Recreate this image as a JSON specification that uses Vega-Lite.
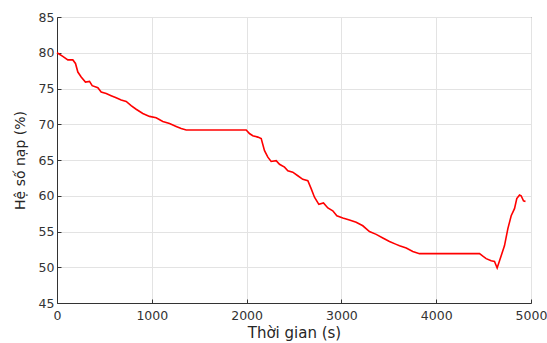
{
  "$schema": "https://vega.github.io/schema/vega-lite/v6.json",
  "width": 474,
  "height": 286,
  "autosize": {"type": "none"},
  "padding": {"left": 57, "top": 17, "right": 16, "bottom": 40},
  "background": "white",
  "config": {
    "view": {"stroke": "#555", "strokeWidth": 1},
    "font": "DejaVu Sans"
  },
  "data": {
    "values": [
      {"t": 0, "v": 80.0}, {"t": 61, "v": 79.5}, {"t": 114, "v": 79.0}, {"t": 167, "v": 79.0},
      {"t": 195, "v": 78.5}, {"t": 220, "v": 77.3}, {"t": 255, "v": 76.6}, {"t": 300, "v": 75.9},
      {"t": 343, "v": 76.0}, {"t": 371, "v": 75.4}, {"t": 431, "v": 75.1}, {"t": 466, "v": 74.5},
      {"t": 519, "v": 74.3}, {"t": 571, "v": 74.0}, {"t": 624, "v": 73.7}, {"t": 677, "v": 73.4},
      {"t": 730, "v": 73.2}, {"t": 782, "v": 72.6}, {"t": 835, "v": 72.1}, {"t": 905, "v": 71.5},
      {"t": 976, "v": 71.1}, {"t": 1046, "v": 70.9}, {"t": 1116, "v": 70.4}, {"t": 1187, "v": 70.1},
      {"t": 1257, "v": 69.7}, {"t": 1310, "v": 69.4}, {"t": 1363, "v": 69.2}, {"t": 1996, "v": 69.2},
      {"t": 2030, "v": 68.7}, {"t": 2065, "v": 68.4}, {"t": 2118, "v": 68.2}, {"t": 2154, "v": 68.0},
      {"t": 2189, "v": 66.3}, {"t": 2224, "v": 65.4}, {"t": 2259, "v": 64.8}, {"t": 2312, "v": 64.9},
      {"t": 2347, "v": 64.4}, {"t": 2400, "v": 64.0}, {"t": 2435, "v": 63.5}, {"t": 2487, "v": 63.3},
      {"t": 2540, "v": 62.8}, {"t": 2593, "v": 62.3}, {"t": 2646, "v": 62.1}, {"t": 2681, "v": 61.0},
      {"t": 2716, "v": 59.8}, {"t": 2762, "v": 58.8}, {"t": 2811, "v": 59.0}, {"t": 2857, "v": 58.3},
      {"t": 2909, "v": 57.9}, {"t": 2952, "v": 57.2}, {"t": 3015, "v": 56.9}, {"t": 3085, "v": 56.6},
      {"t": 3156, "v": 56.3}, {"t": 3226, "v": 55.8}, {"t": 3296, "v": 55.0}, {"t": 3367, "v": 54.6},
      {"t": 3437, "v": 54.1}, {"t": 3507, "v": 53.6}, {"t": 3578, "v": 53.2}, {"t": 3613, "v": 53.0},
      {"t": 3684, "v": 52.7}, {"t": 3753, "v": 52.2}, {"t": 3824, "v": 51.9}, {"t": 4457, "v": 51.9},
      {"t": 4527, "v": 51.2}, {"t": 4580, "v": 50.9}, {"t": 4615, "v": 50.8}, {"t": 4643, "v": 49.9},
      {"t": 4668, "v": 50.9}, {"t": 4720, "v": 53.0}, {"t": 4756, "v": 55.4}, {"t": 4791, "v": 57.2},
      {"t": 4826, "v": 58.2}, {"t": 4850, "v": 59.6}, {"t": 4879, "v": 60.1}, {"t": 4896, "v": 60.0},
      {"t": 4921, "v": 59.3}, {"t": 4942, "v": 59.2}
    ]
  },
  "mark": {"type": "line", "color": "#ff0000", "strokeWidth": 1.6},
  "encoding": {
    "x": {
      "field": "t", "type": "quantitative",
      "scale": {"domain": [0, 5000], "nice": false, "zero": false},
      "axis": {
        "title": "Thời gian (s)", "values": [0, 1000, 2000, 3000, 4000, 5000], "format": "d",
        "titleFontSize": 15, "titleFontWeight": "normal", "titleColor": "#262626", "titlePadding": 4,
        "labelFontSize": 12.5, "labelColor": "#333", "labelPadding": 10,
        "grid": true, "gridColor": "#e3e3e3", "gridWidth": 1,
        "domainColor": "#333", "tickColor": "#333", "tickSize": -4, "labelFlush": false
      }
    },
    "y": {
      "field": "v", "type": "quantitative",
      "scale": {"domain": [45, 85], "nice": false, "zero": false},
      "axis": {
        "title": "Hệ số nạp (%)", "values": [45, 50, 55, 60, 65, 70, 75, 80, 85], "format": "d",
        "titleFontSize": 14, "titleFontWeight": "normal", "titleColor": "#262626", "titlePadding": 11,
        "labelFontSize": 12.5, "labelColor": "#333", "labelPadding": 7,
        "grid": true, "gridColor": "#e3e3e3", "gridWidth": 1,
        "domainColor": "#333", "tickColor": "#333", "tickSize": -4, "labelFlush": false
      }
    }
  }
}
